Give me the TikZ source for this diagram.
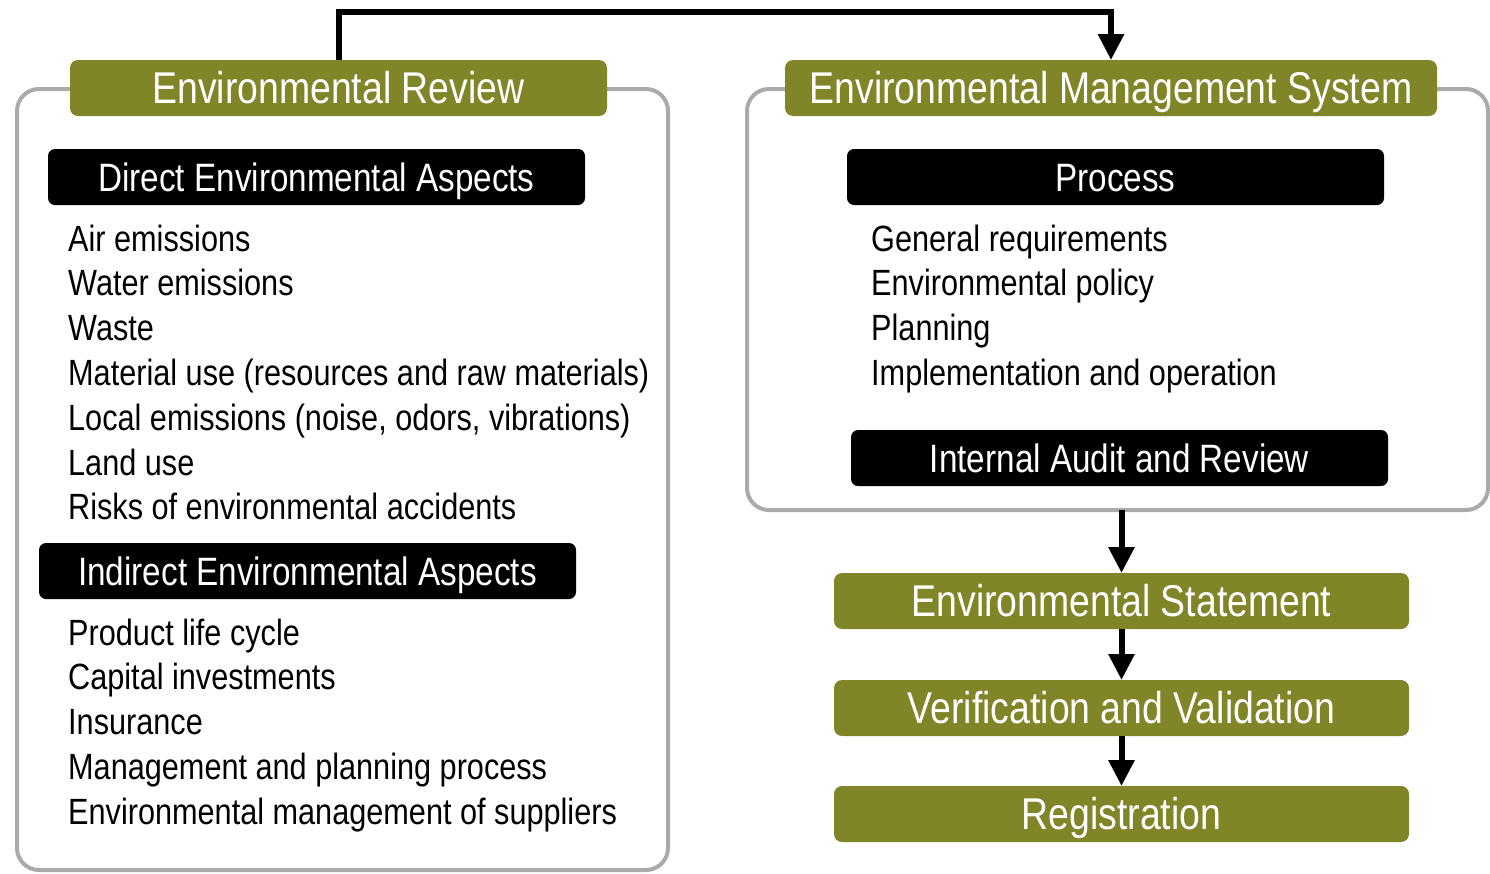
\documentclass[tikz,border=0pt]{standalone}
\usepackage{fontspec}
\setmainfont{Liberation Sans}[FakeStretch=0.84]
\usetikzlibrary{arrows.meta}
\definecolor{envgreen}{RGB}{128,133,39}
\definecolor{frameg}{RGB}{170,170,170}
\begin{document}
\begin{tikzpicture}[x=1pt,y=-1pt,
  frame/.style={draw=frameg, line width=4pt, rounded corners=22pt, inner sep=0pt, outer sep=0pt, anchor=north west},
  greenbox/.style={fill=envgreen, rounded corners=8pt, text=white, font=\fontsize{44.5}{50}\selectfont, text height=31.5pt, text depth=0pt, inner sep=0pt, outer sep=0pt, minimum height=56pt, anchor=north west},
  blackbox/.style={fill=black, rounded corners=7pt, text=white, font=\fontsize{39.6}{45}\selectfont, text height=28pt, text depth=0pt, inner sep=0pt, outer sep=0pt, minimum height=56pt, minimum width=537pt, anchor=north west},
  item/.style={anchor=base west, inner sep=0pt, font=\fontsize{36.5}{45}\selectfont},
  arrow/.style={line width=6pt, -{Triangle[length=26pt,width=25pt]}}]
\useasboundingbox (0,0) rectangle (1490,873);
% frames
\node[frame, minimum width=651pt, minimum height=781pt] (erframe) at (17,89) {};
\node[frame, minimum width=741pt, minimum height=421pt] (emsframe) at (747,89) {};
% green headers
\node[greenbox, minimum width=537pt] (er) at (70,60) {Environmental Review};
\node[greenbox, minimum width=652pt] (ems) at (785,60) {Environmental Management System};
% black headers
\node[blackbox] (direct) at (48,149) {Direct Environmental Aspects};
\node[blackbox] (indirect) at (39,543) {Indirect Environmental Aspects};
\node[blackbox] (process) at (847,149) {Process};
\node[blackbox] (audit) at (851,430) {Internal Audit and Review};
% lists
\foreach \t [count=\i] in {Air emissions, Water emissions, Waste, Material use (resources and raw materials), {Local emissions (noise, odors, vibrations)}, Land use, Risks of environmental accidents}
  \node[item] (d\i) at (68,{251+44.8*(\i-1)}) {\t};
\foreach \t [count=\i] in {Product life cycle, Capital investments, Insurance, Management and planning process, Environmental management of suppliers}
  \node[item] (n\i) at (68,{645+44.8*(\i-1)}) {\t};
\foreach \t [count=\i] in {General requirements, Environmental policy, Planning, Implementation and operation}
  \node[item] (p\i) at (871,{251+44.8*(\i-1)}) {\t};
% green chain
\node[greenbox, minimum width=575pt] (es) at (834,573) {Environmental Statement};
\node[greenbox, minimum width=575pt] (vv) at (834,680) {Verification and Validation};
\node[greenbox, minimum width=575pt] (reg) at (834,786) {Registration};
% connectors
\draw[arrow] (er.north) -- ++(0,-48) -| (ems.north);
\draw[arrow] (emsframe.south -| es.north) -- (es.north);
\draw[arrow] (es.south) -- (vv.north);
\draw[arrow] (vv.south) -- (reg.north);
\end{tikzpicture}
\end{document}
